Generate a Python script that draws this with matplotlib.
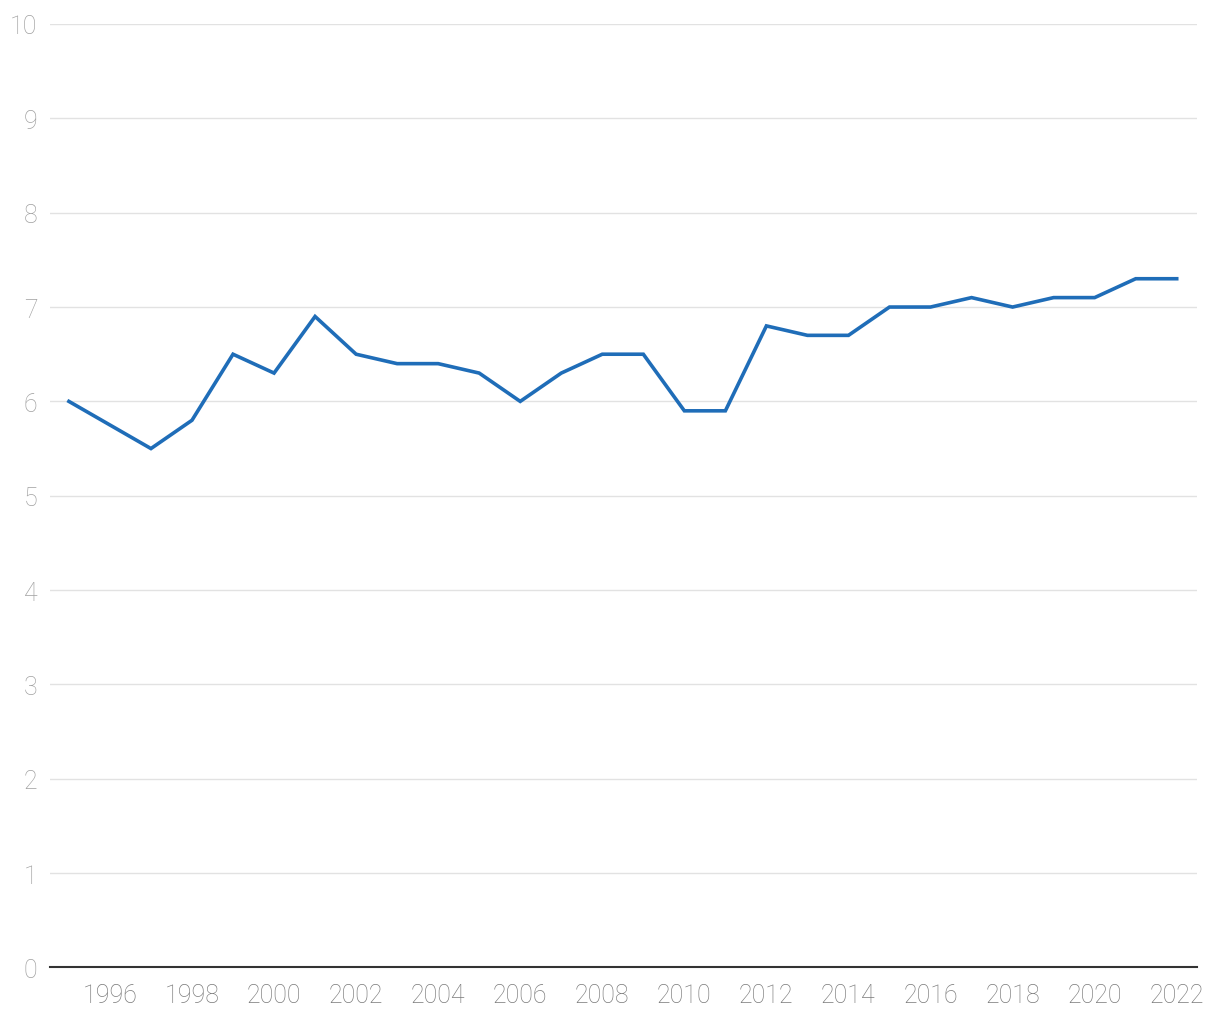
import matplotlib.pyplot as plt
import numpy as np

# dados
years = list(range(1995, 2023))
values = [6.0, 5.75, 5.5, 5.8, 6.5, 6.3, 6.9, 6.5, 6.4, 6.4,
          6.3, 6.0, 6.3, 6.5, 6.5, 5.9, 5.9, 6.8, 6.7, 6.7,
          7.0, 7.0, 7.1, 7.0, 7.1, 7.1, 7.3, 7.3]
x_ticks = list(range(1996, 2023, 2))
y_ticks = list(range(0, 11))

plt.rcParams["font.family"] = ["Roboto", "DejaVu Sans"]

fig = plt.figure(figsize=(12.2, 10.2), dpi=100)
ax = fig.add_axes([0.041, 0.0505, 0.940, 0.925])

ax.plot(years, values, color="#1f6db8", linewidth=2.6, solid_joinstyle="miter")

ax.set_xlim(1994.54, 2022.49)
ax.set_ylim(0, 10)
ax.set_xticks(x_ticks)
ax.set_yticks(y_ticks)

ax.grid(axis="y", color="#e2e2e2", linewidth=1.0)
ax.set_axisbelow(True)
for side in ["top", "right", "left"]:
    ax.spines[side].set_visible(False)
ax.spines["bottom"].set_color("#333333")
ax.spines["bottom"].set_linewidth(1.5)
ax.spines["bottom"].set_zorder(3)

ax.tick_params(axis="x", length=0, pad=11, labelsize=18, labelcolor="#7a7a7a")
ax.tick_params(axis="y", length=0, pad=9, labelsize=18, labelcolor="#a0a0a0")
for lbl in ax.get_xticklabels() + ax.get_yticklabels():
    lbl.set_fontweight("light")

fig.savefig("out.png", dpi=100)
